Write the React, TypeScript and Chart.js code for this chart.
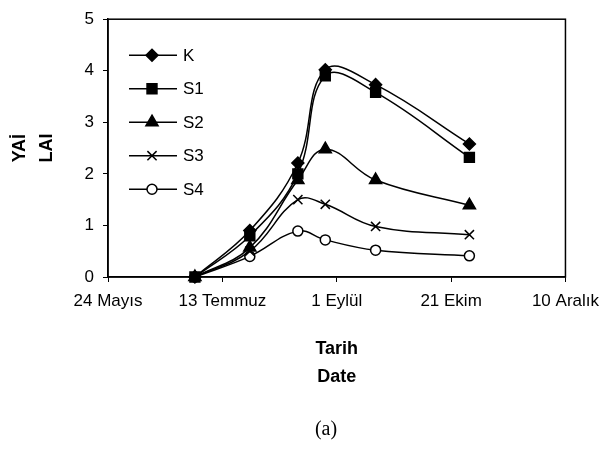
import React, { useEffect, useRef } from 'react';
import { Chart, registerables } from 'chart.js';
Chart.register(...registerables);

// x ticks: days after 24 May
const tickDays = [0, 50, 100, 150, 200];
const tickLabels = ['24 Mayıs', '13 Temmuz', '1 Eylül', '21 Ekim', '10 Aralık'];
// sampling dates, days after 24 May
const sampleDays = [38, 62, 83, 95, 117, 158];

const seriesNames = ['K', 'S1', 'S2', 'S3', 'S4'];
const K = [0, 0.9, 2.21, 4.02, 3.73, 2.58];
const S1 = [0, 0.8, 2.0, 3.9, 3.58, 2.32];
const S2 = [0, 0.57, 1.88, 2.48, 1.88, 1.39];
const S3 = [0, 0.5, 1.5, 1.41, 0.98, 0.82];
const S4 = [0, 0.4, 0.89, 0.72, 0.52, 0.41];
const seriesValues = [K, S1, S2, S3, S4];

const yTitle = ['YAİ', 'LAI'];
const xTitle = ['Tarih', 'Date'];
const caption = '(a)';

const markerStyles = [
  { style: 'rectRot', r: 6, fill: '#000' },
  { style: 'rect', r: 7, fill: '#000' },
  { style: 'triangle', r: 7, fill: '#000' },
  { style: 'crossRot', r: 6.5, fill: '#000' },
  { style: 'circle', r: 5, fill: '#fff' },
];

function drawMarker(ctx: CanvasRenderingContext2D, style: string, x: number, y: number, r: number, fill: string) {
  ctx.save();
  ctx.fillStyle = fill;
  ctx.strokeStyle = '#000';
  ctx.lineWidth = 1.5;
  ctx.beginPath();
  if (style === 'rectRot') {
    ctx.moveTo(x - r, y);
    ctx.lineTo(x, y - r);
    ctx.lineTo(x + r, y);
    ctx.lineTo(x, y + r);
    ctx.closePath();
    ctx.fill();
    ctx.stroke();
  } else if (style === 'rect') {
    const s = Math.SQRT1_2 * r;
    ctx.rect(x - s, y - s, 2 * s, 2 * s);
    ctx.fill();
    ctx.stroke();
  } else if (style === 'triangle') {
    const a = (Math.PI * 2) / 3;
    ctx.moveTo(x, y - r);
    ctx.lineTo(x + Math.sin(a) * r, y - Math.cos(a) * r);
    ctx.lineTo(x - Math.sin(a) * r, y - Math.cos(a) * r);
    ctx.closePath();
    ctx.fill();
    ctx.stroke();
  } else if (style === 'crossRot') {
    const s = Math.SQRT1_2 * r;
    ctx.moveTo(x - s, y - s);
    ctx.lineTo(x + s, y + s);
    ctx.moveTo(x + s, y - s);
    ctx.lineTo(x - s, y + s);
    ctx.stroke();
  } else {
    ctx.arc(x, y, r, 0, Math.PI * 2);
    ctx.fill();
    ctx.stroke();
  }
  ctx.restore();
}

const decorPlugin = {
  id: 'decor',
  afterDraw(chart: any) {
    const ctx: CanvasRenderingContext2D = chart.ctx;
    const a = chart.chartArea;
    ctx.save();
    // frame
    ctx.strokeStyle = '#000';
    ctx.lineWidth = 1.5;
    ctx.strokeRect(a.left, a.top, a.right - a.left, a.bottom - a.top);

    // legend inside plot
    const lx = a.left + 21;
    const ly = a.top + 36;
    const gap = 33.5;
    chart.data.datasets.forEach((ds: any, i: number) => {
      const y = ly + i * gap;
      ctx.strokeStyle = '#000';
      ctx.lineWidth = 1.5;
      ctx.beginPath();
      ctx.moveTo(lx, y);
      ctx.lineTo(lx + 48, y);
      ctx.stroke();
      const m = markerStyles[i];
      drawMarker(ctx, m.style, lx + 23, y, m.r, m.fill);
      ctx.fillStyle = '#000';
      ctx.font = '17px "Liberation Sans", Arial, sans-serif';
      ctx.textAlign = 'left';
      ctx.textBaseline = 'middle';
      ctx.fillText(ds.label, lx + 54, y + 1);
    });

    // axis titles
    ctx.fillStyle = '#000';
    ctx.font = 'bold 18px "Liberation Sans", Arial, sans-serif';
    ctx.textAlign = 'center';
    ctx.textBaseline = 'middle';
    const cx = (a.left + a.right) / 2;
    ctx.fillText(xTitle[0], cx, 349);
    ctx.fillText(xTitle[1], cx, 377);

    const cy = (a.top + a.bottom) / 2;
    ctx.save();
    ctx.translate(20, cy);
    ctx.rotate(-Math.PI / 2);
    ctx.fillText(yTitle[0], 0, 0);
    ctx.restore();
    ctx.save();
    ctx.translate(47, cy);
    ctx.rotate(-Math.PI / 2);
    ctx.fillText(yTitle[1], 0, 0);
    ctx.restore();

    // caption
    ctx.font = '20px "Liberation Serif", "Times New Roman", serif';
    ctx.fillText(caption, 326, 430);
    ctx.restore();
  },
};

export default function App() {
  const ref = useRef<HTMLCanvasElement | null>(null);
  useEffect(() => {
    document.body.style.margin = '0';
    const canvas = ref.current;
    if (!canvas) return;
    const tickFont = { family: '"Liberation Sans", Arial, sans-serif', size: 17 };
    const chart = new Chart(canvas, {
      type: 'line',
      data: {
        datasets: seriesValues.map((vals, i) => ({
          label: seriesNames[i],
          data: sampleDays.map((d, j) => ({ x: d, y: vals[j] })),
          borderColor: '#000',
          borderWidth: 1.5,
          backgroundColor: markerStyles[i].fill,
          pointBackgroundColor: markerStyles[i].fill,
          pointBorderColor: '#000',
          pointBorderWidth: 1.5,
          pointStyle: markerStyles[i].style as any,
          pointRadius: markerStyles[i].r,
          pointHoverRadius: markerStyles[i].r,
          tension: 0.4,
          fill: false,
          clip: false as any,
        })),
      },
      options: {
        animation: false,
        responsive: false,
        devicePixelRatio: 1,
        layout: { padding: { left: 0, right: 38, top: 17, bottom: 0 } },
        plugins: {
          legend: { display: false },
          tooltip: { enabled: false },
          title: { display: false },
        },
        scales: {
          x: {
            type: 'linear',
            min: tickDays[0],
            max: tickDays[tickDays.length - 1],
            afterBuildTicks: (scale: any) => {
              scale.ticks = tickDays.map((v) => ({ value: v }));
            },
            afterFit: (scale: any) => {
              scale.height = 173;
            },
            ticks: {
              autoSkip: false,
              maxRotation: 0,
              minRotation: 0,
              padding: 9,
              color: '#000',
              font: tickFont,
              callback: (v: any) => {
                const idx = tickDays.indexOf(Number(v));
                return idx >= 0 ? tickLabels[idx] : '';
              },
            },
            grid: {
              display: true,
              drawOnChartArea: false,
              drawTicks: true,
              tickLength: 5,
              color: '#000',
              lineWidth: 1,
            },
            border: { display: true, color: '#000', width: 1.5 },
          },
          y: {
            type: 'linear',
            min: 0,
            max: 5,
            afterFit: (scale: any) => {
              scale.width = 108;
            },
            ticks: {
              stepSize: 1,
              padding: 9,
              color: '#000',
              font: tickFont,
            },
            grid: {
              display: true,
              drawOnChartArea: false,
              drawTicks: true,
              tickLength: 5,
              color: '#000',
              lineWidth: 1,
            },
            border: { display: true, color: '#000', width: 1.5 },
          },
        },
      },
      plugins: [decorPlugin],
    });
    return () => chart.destroy();
  }, []);
  return (
    <div style={{ width: 608, height: 450 }}>
      <canvas ref={ref} width={608} height={450} style={{ display: 'block' }} />
    </div>
  );
}
